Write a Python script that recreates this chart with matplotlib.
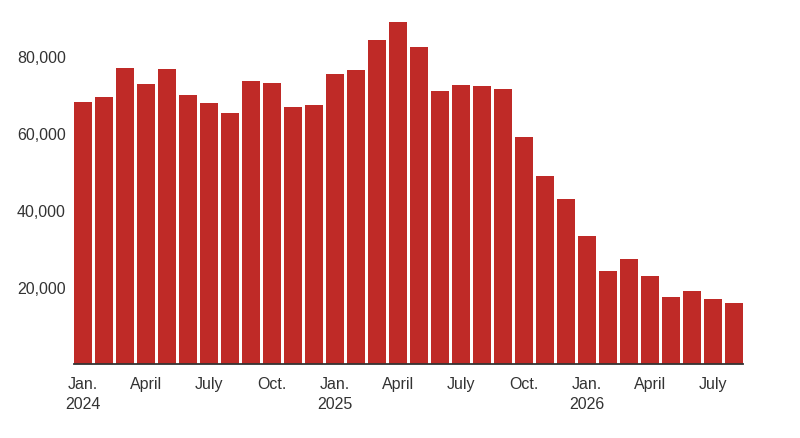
import matplotlib.pyplot as plt

plt.rcParams['font.family'] = ['Liberation Sans', 'DejaVu Sans']

values = [68100, 69300, 76900, 72700, 76700, 69900, 67700, 65200,
          73500, 72900, 66600, 67200, 75200, 76300, 84100, 88700,
          82300, 71000, 72500, 72200, 71400, 59000, 48900, 42900,
          33200, 24100, 27300, 22900, 17400, 18900, 17000, 15800]
tick_idx = [0, 3, 6, 9, 12, 15, 18, 21, 24, 27, 30]
tick_labels = ['Jan.\n2024', 'April', 'July', 'Oct.',
               'Jan.\n2025', 'April', 'July', 'Oct.',
               'Jan.\n2026', 'April', 'July']
y_ticks = [20000, 40000, 60000, 80000]

fig = plt.figure(figsize=(8, 4.39), dpi=100)
ax = fig.add_axes([0.0925, 0.1686, 0.8359, 0.8141])

x = list(range(len(values)))
ax.bar(x, values, width=0.84, color='#bf2a27', edgecolor='none')

ax.set_xlim(-0.42, len(values) - 1 + 0.42)
ax.set_ylim(0, 92800)

ax.set_yticks(y_ticks)
ax.set_yticklabels([f'{v:,}' for v in y_ticks])
ax.set_xticks(tick_idx)
ax.set_xticklabels(tick_labels, linespacing=1.4)

ax.tick_params(axis='both', length=0, labelsize=11.5, colors='#333333')
ax.tick_params(axis='y', pad=6)
ax.tick_params(axis='x', pad=9)

for s in ['top', 'right', 'left']:
    ax.spines[s].set_visible(False)
ax.spines['bottom'].set_color('#333333')
ax.spines['bottom'].set_linewidth(1.3)

fig.savefig('out.png', dpi=100)
